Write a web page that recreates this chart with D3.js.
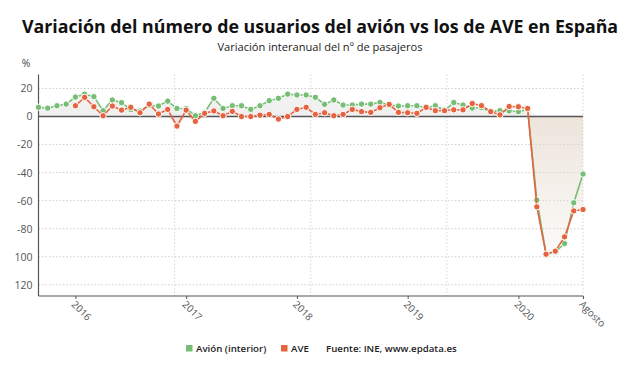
<!DOCTYPE html>
<html>
<head>
<meta charset="utf-8">
<script src="https://cdn.jsdelivr.net/npm/d3@7"></script>
<style>
  body { margin: 0; background: #fff; }
  svg { font-family: "Open Sans", "Noto Sans", sans-serif; }
</style>
</head>
<body>
<div id="chart"></div>
<script>
const width = 640;
const height = 376;

// Meses (sep 2015 - ago 2020)
const meses = [
  "2015-09","2015-10","2015-11","2015-12",
  "2016-01","2016-02","2016-03","2016-04","2016-05","2016-06","2016-07","2016-08","2016-09","2016-10","2016-11","2016-12",
  "2017-01","2017-02","2017-03","2017-04","2017-05","2017-06","2017-07","2017-08","2017-09","2017-10","2017-11","2017-12",
  "2018-01","2018-02","2018-03","2018-04","2018-05","2018-06","2018-07","2018-08","2018-09","2018-10","2018-11","2018-12",
  "2019-01","2019-02","2019-03","2019-04","2019-05","2019-06","2019-07","2019-08","2019-09","2019-10","2019-11","2019-12",
  "2020-01","2020-02","2020-03","2020-04","2020-05","2020-06","2020-07","2020-08"
];

// Variacion interanual (%) - Avion (interior)
const avion = [
  6.6, 6, 7.7, 8.9,
  13.9, 16, 14.2, 4.2, 11.8, 9.9, 5, 4, 8, 7.5, 11, 5.8,
  5.8, 0.6, 3, 13, 5.8, 7.7, 7.7, 5.1, 7.7, 11.3, 13, 16,
  15.4, 15.4, 13.7, 8.7, 11.8, 8.2, 8.2, 8.9, 8.9, 10.1, 8.2, 7.5,
  7.7, 7.7, 6.5, 7.7, 4.5, 10, 8.2, 6, 6.3, 3.5, 4.2, 4,
  3.5, 5, -59.6, -98, -96.5, -90.6, -61.5, -41
];

// Variacion interanual (%) - AVE (desde ene 2016)
const ave = [
  null, null, null, null,
  7.7, 13.7, 7, 0.6, 7.5, 4.6, 6.6, 2.7, 8.9, 1.8, 5.1, -6.8,
  4.6, -3.4, 2.3, 4, 0.6, 3.7, 0, 0, 1, 1.5, -1.8, 0,
  5.1, 6.6, 1.5, 2.7, 0.6, 1.5, 5.1, 3.5, 3, 6.3, 8.7, 3,
  2.7, 2.3, 6.6, 4.2, 4.2, 4.8, 4.8, 9.3, 7.8, 3.5, 1.2, 7.2,
  7, 5.8, -64.4, -98.2, -96, -85.8, -67.3, -66.3
];

const yTicks = [20, 0, -20, -40, -60, -80, -100, -120];
const xTickMeses = ["2016-01", "2017-01", "2018-01", "2019-01", "2020-01", "2020-08"];
const xTickLabels = ["2016", "2017", "2018", "2019", "2020", "Agosto"];

const colorAvion = "#76bd76";
const colorAve = "#e6633f";

const plot = { left: 38.5, right: 583, top: 74.5, bottom: 296 };

const svg = d3.select("#chart")
    .append("svg")
    .attr("width", width)
    .attr("height", height);

const x = d3.scalePoint()
    .domain(meses)
    .range([plot.left, plot.right]);

const y = d3.scaleLinear()
    .domain([-128, 30])
    .range([plot.bottom, plot.top]);

// Title
svg.append("text")
    .attr("x", 320).attr("y", 33)
    .attr("text-anchor", "middle")
    .attr("font-size", 17.8).attr("font-weight", 700)
    .attr("fill", "#111")
    .text("Variación del número de usuarios del avión vs los de AVE en España");

svg.append("text")
    .attr("x", 320).attr("y", 51)
    .attr("text-anchor", "middle")
    .attr("font-size", 11.1)
    .attr("fill", "#222")
    .text("Variación interanual del nº de pasajeros");

svg.append("text")
    .attr("x", 26).attr("y", 67)
    .attr("text-anchor", "middle")
    .attr("font-size", 10.5)
    .attr("fill", "#444")
    .text("%");

// Gradient for the areas
const defs = svg.append("defs");
const grad = defs.append("linearGradient")
    .attr("id", "gradAve")
    .attr("gradientUnits", "userSpaceOnUse")
    .attr("x1", 0).attr("x2", 0)
    .attr("y1", y(0)).attr("y2", y(-100));
grad.append("stop").attr("offset", 0).attr("stop-color", "#e3d6c8").attr("stop-opacity", 0.65);
grad.append("stop").attr("offset", 1).attr("stop-color", "#e3d6c8").attr("stop-opacity", 0.1);

const gradPos = defs.append("linearGradient")
    .attr("id", "gradPos")
    .attr("gradientUnits", "userSpaceOnUse")
    .attr("x1", 0).attr("x2", 0)
    .attr("y1", y(20)).attr("y2", y(0));
gradPos.append("stop").attr("offset", 0).attr("stop-color", "#e8e8e8").attr("stop-opacity", 0.5);
gradPos.append("stop").attr("offset", 1).attr("stop-color", "#e8e8e8").attr("stop-opacity", 0.7);

// Gridlines
const grid = svg.append("g");
grid.selectAll(".hgrid")
    .data(yTicks.filter(d => d !== 0))
  .enter().append("line")
    .attr("x1", plot.left).attr("x2", plot.right)
    .attr("y1", d => y(d)).attr("y2", d => y(d))
    .attr("stroke", "#cfcfcf")
    .attr("stroke-dasharray", "1.5,2");

const xFrac = d3.scaleLinear().domain([0, 1]).range([plot.left, plot.right]);
grid.selectAll(".vgrid")
    .data([0.25, 0.5, 0.75, 1])
  .enter().append("line")
    .attr("x1", d => xFrac(d)).attr("x2", d => xFrac(d))
    .attr("y1", plot.top).attr("y2", plot.bottom)
    .attr("stroke", "#d6d6d6")
    .attr("stroke-dasharray", "1.5,2");

// Areas
const avionData = meses.map((m, i) => ({ m, v: avion[i] }));
const aveData = meses.map((m, i) => ({ m, v: ave[i] })).filter(d => d.v !== null);

svg.append("path")
    .datum(avionData)
    .attr("fill", "url(#gradPos)")
    .attr("d", d3.area().x(d => x(d.m)).y0(y(0)).y1(d => y(Math.max(d.v, 0))));

svg.append("path")
    .datum(aveData)
    .attr("fill", "url(#gradAve)")
    .attr("d", d3.area().x(d => x(d.m)).y0(y(0)).y1(d => y(Math.min(d.v, 0))));

// Zero line
svg.append("line")
    .attr("x1", plot.left).attr("x2", plot.right)
    .attr("y1", y(0)).attr("y2", y(0))
    .attr("stroke", "#555").attr("stroke-width", 1.5);

// Axes
const yAxis = svg.append("g")
    .attr("transform", `translate(${plot.left},0)`)
    .call(d3.axisLeft(y).tickValues(yTicks).tickSize(0).tickPadding(6)
        .tickFormat(d => d <= -100 ? String(-d) : String(d)));
yAxis.select(".domain").remove();
yAxis.selectAll("text").attr("font-size", 10.5).attr("fill", "#555").attr("font-family", "Open Sans");

svg.append("line")
    .attr("x1", plot.left).attr("x2", plot.left)
    .attr("y1", plot.top).attr("y2", plot.bottom)
    .attr("stroke", "#555").attr("stroke-width", 1.2);

const xAxis = svg.append("g")
    .attr("transform", `translate(0,${plot.bottom})`)
    .call(d3.axisBottom(x).tickValues(xTickMeses).tickSize(3).tickPadding(4)
        .tickFormat((d, i) => xTickLabels[i]));
xAxis.select(".domain")
    .attr("d", `M${plot.left},0H${plot.right}`)
    .attr("stroke", "#555").attr("stroke-width", 1.2);
xAxis.selectAll(".tick line").attr("stroke", "#555");
xAxis.selectAll("text")
    .attr("font-size", 10)
    .attr("fill", "#555")
    .attr("font-family", "Open Sans")
    .attr("text-anchor", "start")
    .attr("transform", "translate(2,2) rotate(45)")
    .attr("dy", "0.3em");

// Lines and dots
function drawSeries(data, color) {
    svg.append("path")
        .datum(data)
        .attr("fill", "none")
        .attr("stroke", color)
        .attr("stroke-width", 1.6)
        .attr("d", d3.line().x(d => x(d.m)).y(d => y(d.v)));

    svg.selectAll(null)
        .data(data)
      .enter().append("circle")
        .attr("cx", d => x(d.m))
        .attr("cy", d => y(d.v))
        .attr("r", 3.2)
        .attr("fill", color)
        .attr("stroke", "#fff")
        .attr("stroke-width", 1);
}
drawSeries(avionData, colorAvion);
drawSeries(aveData, colorAve);

// Legend
const legend = svg.append("g").attr("font-size", 9.7).attr("fill", "#222").attr("font-weight", 600);
legend.append("rect").attr("x", 186).attr("y", 345).attr("width", 6.5).attr("height", 6.5).attr("fill", colorAvion);
legend.append("text").attr("x", 196).attr("y", 352).text("Avión (interior)");
legend.append("rect").attr("x", 281).attr("y", 345).attr("width", 6.5).attr("height", 6.5).attr("fill", colorAve);
legend.append("text").attr("x", 291).attr("y", 352).text("AVE");
legend.append("text").attr("x", 326).attr("y", 352).text("Fuente: INE, www.epdata.es");
</script>
</body>
</html>
